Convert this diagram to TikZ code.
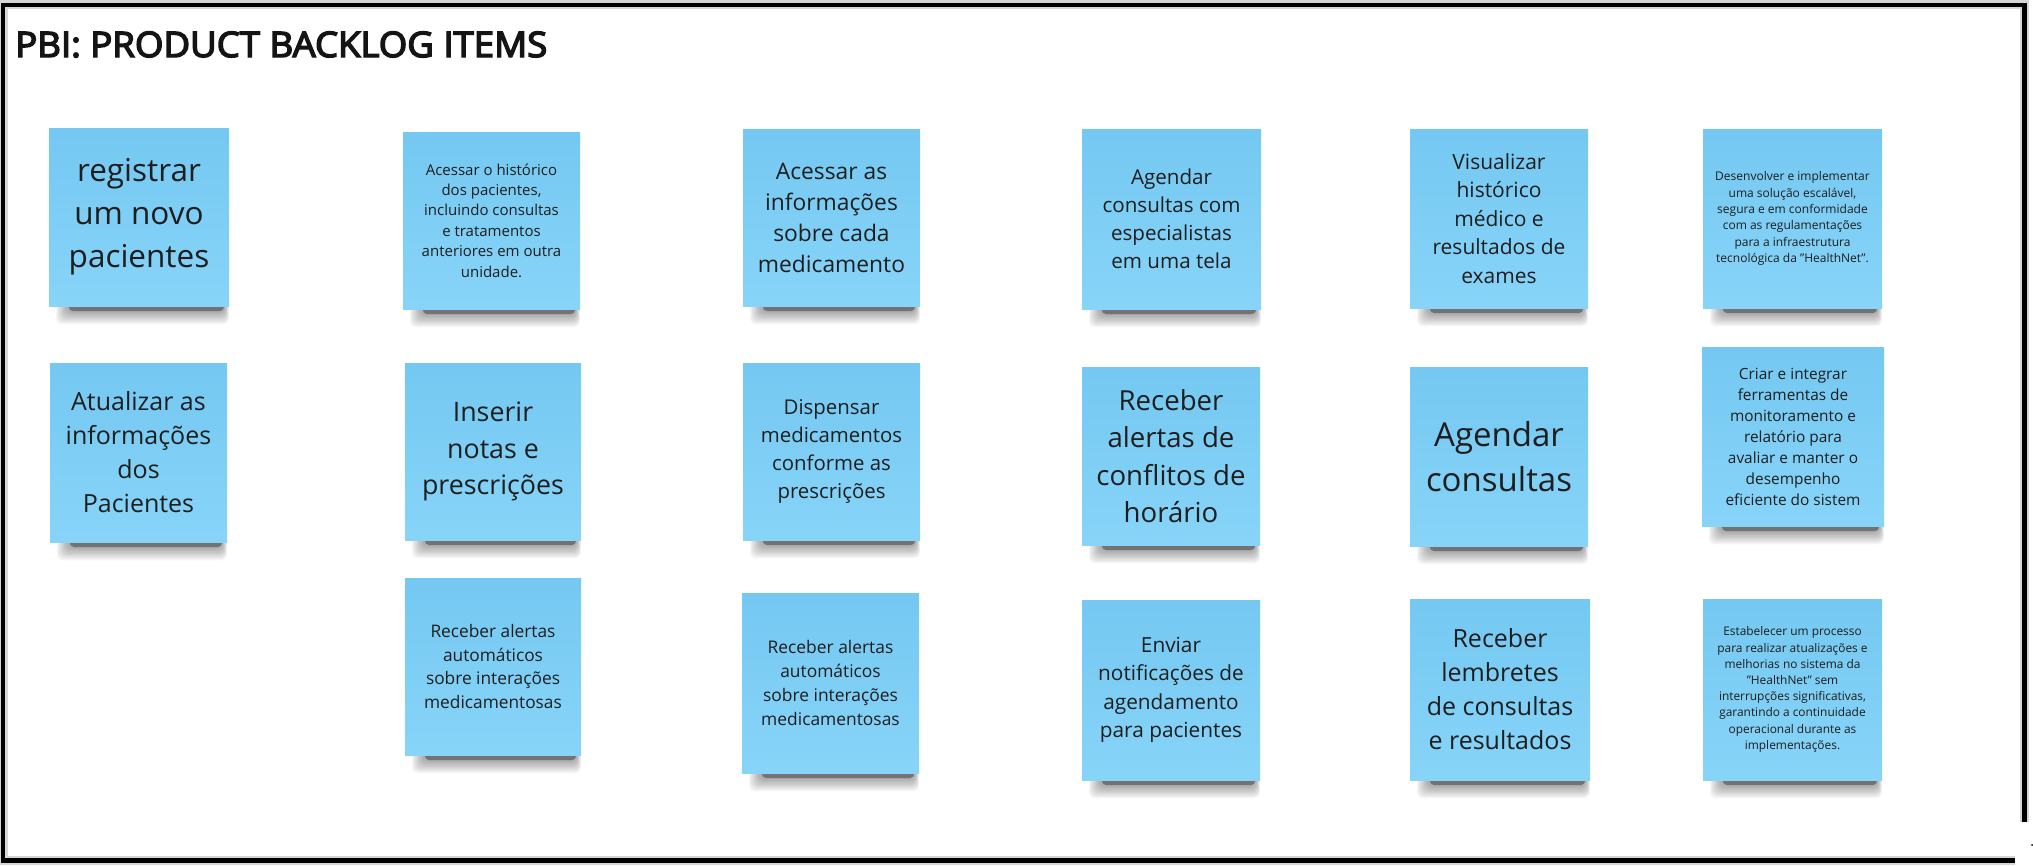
\documentclass[tikz,border=0pt]{standalone}
\usepackage{fontspec}
\usepackage{graphicx}
\setmainfont{Open Sans}
\newfontfamily\titlefont{Open Sans}[FakeBold=4]
\newcommand\dq{\char34\relax}
\definecolor{nTop}{HTML}{74C8F1}
\definecolor{nBot}{HTML}{88D4F9}
\definecolor{txt}{HTML}{1E1E1E}
\tikzset{
  note/.style={shading=axis, top color=nTop, bottom color=nBot, draw=none,
    inner sep=0pt, align=center, text=txt},
  frameline/.style={draw=black, line width=4.4pt},
  framehalo/.style={draw=black!35, line width=9pt, opacity=0.45},
}
\newcommand\shadowband[3]{%
  \fill[black, opacity=0.3, rounded corners=4pt] ({#1+20},{#3-6}) rectangle ({#2-5},{#3+5});
  \foreach \k in {1,...,11}{
    \fill[black, opacity=0.036, rounded corners=6pt] ({#1+20-1.2*\k},{#3-6}) rectangle ({#2-5+0.45*\k},{#3+4+1.3*\k});
  }%
}
\newcommand\stickynote[8]{%
  \shadowband{#2}{#4}{#5}
  \node[note, minimum width={(#4-#2)*1pt}, minimum height={(#5-#3)*1pt},
        font=\fontsize{#6pt}{#7pt}\selectfont] (#1) at ({(#2+#4)/2},{(#3+#5)/2}) {#8};
}
\begin{document}
\begin{tikzpicture}[x=1pt,y=-1pt]
\useasboundingbox (0,0) rectangle (2033,865);
\fill[white] (0,0) rectangle (2033,865);
% frame
\draw[framehalo] (3,4.7) rectangle (2024.5,860.5);
\draw[frameline] (3,4.7) rectangle (2024.5,860.5);
\fill[white] (2015,822) rectangle (2033,865);
\fill[black] (2032,845) circle (1pt);
% title
\node[anchor=base west, inner sep=0pt, text=black!92] (title) at (15,57)
  {\resizebox{532pt}{25.5pt}{\titlefont PBI: PRODUCT BACKLOG ITEMS}};
% row 1
\stickynote{n1}{49}{128}{229}{306}{31.5}{43}{registrar\\um novo\\pacientes}
\stickynote{n2}{403}{132}{580}{309}{15}{20.4}{Acessar o histórico\\dos pacientes,\\incluindo consultas\\e tratamentos\\anteriores em outra\\unidade.}
\stickynote{n3}{743}{129}{920}{306}{22.8}{31}{Acessar as\\informações\\sobre cada\\medicamento}
\stickynote{n4}{1082}{129}{1261}{309}{20.6}{28}{Agendar\\consultas com\\especialistas\\em uma tela}
\stickynote{n5}{1410}{129}{1588}{308}{21}{28.5}{Visualizar\\histórico\\médico e\\resultados de\\exames}
\stickynote{n6}{1703}{129}{1882}{308}{12}{16.3}{Desenvolver e implementar\\uma solução escalável,\\segura e em conformidade\\com as regulamentações\\para a infraestrutura\\tecnológica da \dq HealthNet\dq.}
% row 2
\stickynote{n7}{50}{363}{227}{542}{25}{34}{Atualizar as\\informações\\dos\\Pacientes}
\stickynote{n8}{405}{363}{581}{540}{26.8}{36.5}{Inserir\\notas e\\prescrições}
\stickynote{n9}{743}{363}{920}{540}{20.4}{27.7}{Dispensar\\medicamentos\\conforme as\\prescrições}
\stickynote{n10}{1082}{367}{1260}{545}{27.6}{37.5}{Receber\\alertas de\\conflitos de\\horário}
\stickynote{n11}{1410}{367}{1588}{546}{33}{45}{Agendar\\consultas}
\stickynote{n12}{1702}{347}{1884}{526}{15.4}{21}{Criar e integrar\\ferramentas de\\monitoramento e\\relatório para\\avaliar e manter o\\desempenho\\eficiente do sistem}
% row 3
\stickynote{n13}{405}{578}{581}{755}{17.3}{23.5}{Receber alertas\\automáticos\\sobre interações\\medicamentosas}
\stickynote{n14}{742}{593}{919}{773}{17.4}{23.7}{Receber alertas\\automáticos\\sobre interações\\medicamentosas}
\stickynote{n15}{1082}{600}{1260}{780}{20.8}{28.3}{Enviar\\notificações de\\agendamento\\para pacientes}
\stickynote{n16}{1410}{599}{1590}{780}{25}{34}{Receber\\lembretes\\de consultas\\e resultados}
\stickynote{n17}{1703}{599}{1882}{780}{11.9}{16.2}{Estabelecer um processo\\para realizar atualizações e\\melhorias no sistema da\\\dq HealthNet\dq{} sem\\interrupções significativas,\\garantindo a continuidade\\operacional durante as\\implementações.}
\end{tikzpicture}
\end{document}
